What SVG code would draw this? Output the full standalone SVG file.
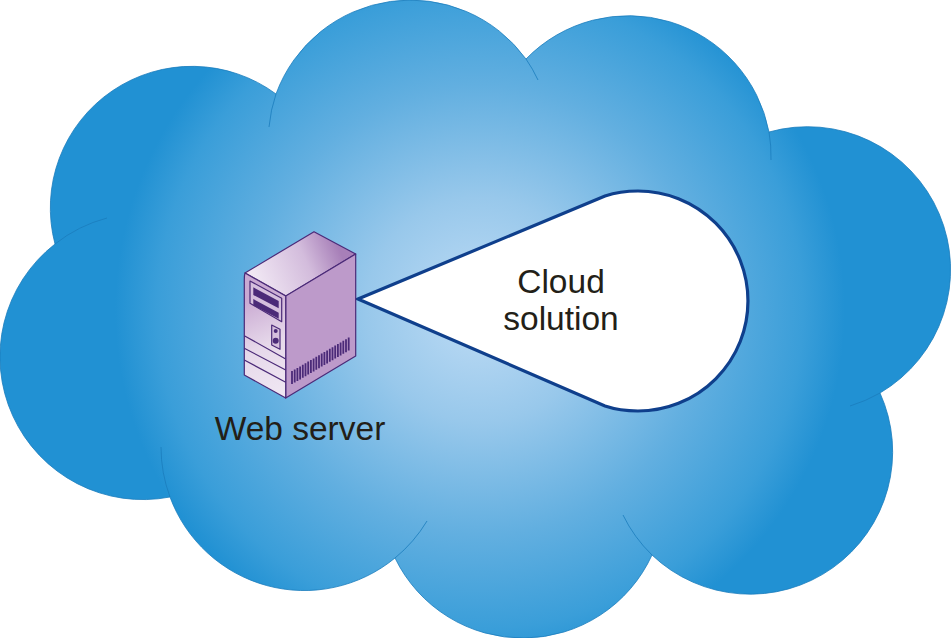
<svg xmlns="http://www.w3.org/2000/svg" width="951" height="638" viewBox="0 0 951 638">
<style>
.hair{fill:none;stroke:#1a7cbc;stroke-width:.8}
.lbl{font-family:"Liberation Sans",Arial,sans-serif;font-size:33.5px;fill:#231f18;text-anchor:middle}
.sv{stroke:#4b2a78;stroke-width:1.2;stroke-linejoin:round}
.dark{fill:#4b2a78}
</style>
<defs>
<radialGradient id="sky" gradientUnits="userSpaceOnUse" cx="0" cy="0" r="1" gradientTransform="translate(480 310) scale(380 375)">
<stop offset="0" stop-color="#bfdcf5"/>
<stop offset=".3" stop-color="#98c8eb"/>
<stop offset=".6" stop-color="#62afe0"/>
<stop offset=".85" stop-color="#3a9ed9"/>
<stop offset=".96" stop-color="#2191d3"/>
</radialGradient>
<linearGradient id="top" gradientUnits="userSpaceOnUse" x1="255" y1="275" x2="335" y2="240">
<stop offset="0" stop-color="#f0e6f3"/><stop offset=".6" stop-color="#d3bcdc"/><stop offset="1" stop-color="#a77fb8"/>
</linearGradient>
<linearGradient id="front" gradientUnits="userSpaceOnUse" x1="245" y1="300" x2="285" y2="390">
<stop offset="0" stop-color="#c9a9d2"/><stop offset=".5" stop-color="#e6d8ea"/><stop offset="1" stop-color="#efe6f2"/>
</linearGradient>
</defs>
<g id="cloud">
<path d="M55 244 A141.600 141.600 0 0 1 276 94 A143 143 0 0 1 526 59 A143 143 0 0 1 769 132 A143 143 0 0 1 880 393 A142.500 142.500 0 0 1 652 555 A142 142 0 0 1 395 558 A143 143 0 0 1 170 497 A142.900 142.900 0 0 1 55 244 Z" fill="url(#sky)" stroke="#1a7cbc" stroke-width=".8"/>
<path class="hair" d="M269 127 A143 143 0 0 1 276 94"/>
<path class="hair" d="M55 244 A143 143 0 0 1 107 218"/>
<path class="hair" d="M526 59 A143 143 0 0 1 538 80"/>
<path class="hair" d="M769 132 A143 143 0 0 1 771 160"/>
<path class="hair" d="M880 393 A144 144 0 0 1 850 406"/>
<path class="hair" d="M652 555 A143 143 0 0 1 623 515"/>
<path class="hair" d="M427 521 A143 143 0 0 1 395 558"/>
<path class="hair" d="M170 497 A143 143 0 0 1 161 447"/>
</g>
<g id="connectors">
<path id="callout" d="M358 299 L605 196 Q620 191 638 191 A110 110 0 0 1 638 411 Q620 411 605 406 Z" fill="#fff" stroke="#0f3f8c" stroke-width="3.200" stroke-linejoin="miter"/>
</g>
<g id="cloud-solution">
<text class="lbl" x="561" y="293">Cloud</text>
<text class="lbl" x="561" y="330">solution</text>
</g>
<g id="web-server">
<path class="sv" d="M314 231.700 L355.700 254 L286 296 L245 273 Z" fill="url(#top)"/>
<path class="sv" d="M355.700 254 V356 L285.700 398 V296 Z" fill="#bd9aca"/>
<path class="sv" d="M245 273 Q244.300 275 244.300 280 V375 L285.700 398 V296 Z" fill="url(#front)"/>
<path class="sv" d="M250 281 L281.700 298.300 V321.700 L250 303.300 Z" fill="#d5bfdd"/>
<path class="dark" d="M253.300 287.300 L278.700 301 V308.300 L253.300 295 Z M253.300 299 L278.700 312.700 V318.700 L253.300 305.300 Z"/>
<path class="sv" d="M271.700 325 L280 329.300 V349.300 L271.700 345 Z" fill="#d5bfdd"/>
<circle class="dark" cx="275.700" cy="331" r="2"/>
<circle class="dark" cx="275.700" cy="340.700" r="3"/>
<path class="sv" fill="none" d="M244.300 335.700 L285.700 359 M244.300 348.300 L285.700 370 M244.300 360 L285.700 382.300"/>
<path fill="none" stroke="#4b2a78" stroke-width="1.800" d="M292 371V384M294.700 369.500V382.500M297.400 368V381M300.100 366.400V379.400M302.800 364.800V377.800M305.500 363.200V376.200M308.200 361.600V374.600M310.900 360V373M313.600 358.400V371.400M316.300 356.800V369.800M319 355.200V368.200M321.700 353.600V366.600M324.400 352V365M327.100 350.400V363.400M329.800 348.800V361.800M332.500 347.200V360.200M335.200 345.600V358.600M337.900 344V357M340.600 342.400V355.400M343.300 340.800V353.800M346 339.200V352.200M348.700 337.600V350.600"/>
<text class="lbl" x="300" y="440">Web server</text>
</g>
</svg>
